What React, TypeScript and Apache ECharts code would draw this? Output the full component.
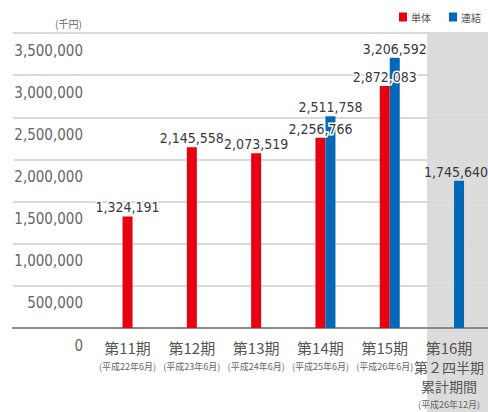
import React, { useEffect, useRef } from "react";
import * as echarts from "echarts";

const categories = ["第11期", "第12期", "第13期", "第14期", "第15期", "第16期"];
const subLines = [
  "",
  "",
  "",
  "",
  "",
  "第２四半期\n累計期間",
];
const periods = [
  "(平成22年6月)",
  "(平成23年6月)",
  "(平成24年6月)",
  "(平成25年6月)",
  "(平成26年6月)",
  "(平成26年12月)",
];
const tantai = [1324191, 2145558, 2073519, 2256766, 2872083, null];
const renketsu = [null, null, null, 2511758, 3206592, 1745640];
const yTicks = { min: 0, max: 3500000, interval: 500000 };

const NUM_FONT = "'DejaVu Sans Condensed', 'Liberation Sans Narrow', 'Noto Sans', sans-serif";
const JP_FONT = "'Noto Sans CJK JP', sans-serif";
const RED = "#e60012";
const BLUE = "#0068b7";

const fmt = (v: number) => v.toLocaleString("en-US");

export default function App() {
  const ref = useRef<HTMLDivElement>(null);
  useEffect(() => {
    if (!ref.current) return;
    const chart = echarts.init(ref.current, null, { renderer: "svg" });
    const labelBase = {
      show: true,
      position: "top" as const,
      distance: 2,
      fontFamily: NUM_FONT,
      fontSize: 14,
      color: "#3a3a3a",
      textBorderColor: "#fff",
      textBorderWidth: 3,
      formatter: (p: any) => fmt(p.value),
    };
    const catLabels = categories.map((c, i) => {
      const parts = [`{a|${c}}`];
      if (subLines[i]) subLines[i].split("\n").forEach((s) => parts.push(`{c|${s}}`));
      parts.push(`{b|${periods[i]}}`);
      return parts.join("\n");
    });
    chart.setOption({
      animation: false,
      title: {
        text: "(千円)",
        left: 50,
        top: 13,
        textStyle: { fontFamily: JP_FONT, fontSize: 10, fontWeight: "normal", color: "#666" },
      },
      legend: {
        data: [
          { name: "単体", itemStyle: { color: RED } },
          { name: "連結", itemStyle: { color: BLUE } },
        ],
        left: 394,
        top: 7,
        itemWidth: 8,
        itemHeight: 9,
        itemGap: 18,
        icon: "rect",
        textStyle: { fontFamily: JP_FONT, fontSize: 10, color: "#555", padding: [0, 0, 0, -1] },
      },
      graphic: [
        {
          type: "rect",
          z: -10,
          shape: { x: 427, y: 33, width: 61, height: 379 },
          style: { fill: "#dcdcdc" },
        },
      ],
      grid: [
        { left: 13, right: 0, top: 33, bottom: 84 },
        { left: 95.4, right: 6.8, top: 33, bottom: 84 },
      ],
      xAxis: [
        {
          type: "value",
          gridIndex: 0,
          min: 0,
          max: 1,
          axisLine: { show: true, lineStyle: { color: "#8a8a8a", width: 2 } },
          axisTick: { show: false },
          axisLabel: { show: false },
          splitLine: { show: false },
        },
        {
          type: "category",
          gridIndex: 1,
          data: catLabels,
          axisLine: { show: false },
          axisTick: { show: false },
          axisLabel: {
            interval: 0,
            margin: 9,
            verticalAlign: "top",
            rich: {
              a: { fontFamily: JP_FONT, fontSize: 15, color: "#555", lineHeight: 20, align: "center" },
              c: { fontFamily: JP_FONT, fontSize: 14, color: "#555", lineHeight: 19, align: "center" },
              b: { fontFamily: JP_FONT, fontSize: 9, color: "#666", lineHeight: 18, align: "center" },
            },
          },
        },
      ],
      yAxis: [
        {
          type: "value",
          gridIndex: 0,
          ...yTicks,
          axisLine: { show: false },
          axisTick: { show: false },
          splitLine: { show: true, lineStyle: { color: "#dadada", width: 2 } },
          axisLabel: {
            inside: true,
            margin: 70,
            align: "right",
            verticalAlign: "top",
            padding: [10, 0, 0, 0],
            fontFamily: NUM_FONT,
            fontSize: 15,
            color: "#666",
            formatter: (v: number) => fmt(v),
          },
        },
        {
          type: "value",
          gridIndex: 1,
          ...yTicks,
          show: false,
          splitLine: { show: false },
        },
      ],
      series: [
        {
          name: "_spacer",
          type: "bar",
          xAxisIndex: 1,
          yAxisIndex: 1,
          barWidth: 10,
          barGap: "0%",
          data: categories.map(() => null),
        },
        {
          name: "単体",
          type: "bar",
          xAxisIndex: 1,
          yAxisIndex: 1,
          barWidth: 10,
          barGap: "0%",
          itemStyle: { color: RED },
          label: labelBase,
          data: tantai,
        },
        {
          name: "連結",
          type: "bar",
          xAxisIndex: 1,
          yAxisIndex: 1,
          barWidth: 10,
          barGap: "0%",
          itemStyle: { color: BLUE },
          label: labelBase,
          data: renketsu.map((v, i) =>
            i === 5 && v != null
              ? { value: v, label: { textBorderWidth: 0, offset: [-3, 0] } }
              : v
          ),
        },
      ],
    });
    return () => chart.dispose();
  }, []);
  return (
    <div
      ref={ref}
      style={{ position: "fixed", left: 0, top: 0, width: 488, height: 412, background: "#fff" }}
    />
  );
}
